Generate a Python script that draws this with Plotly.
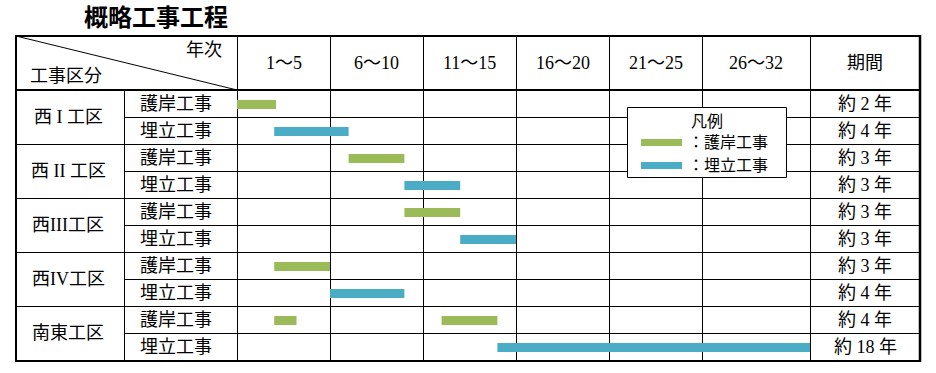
import numpy as np
import plotly.graph_objects as go

# ---------------- data ----------------
title = "概略工事工程"
areas = ["西 I 工区", "西 II 工区", "西III工区", "西IV工区", "南東工区"]
work_types = ["護岸工事", "埋立工事"]
year_labels = ["1～5", "6～10", "11～15", "16～20", "21～25", "26～32"]
year_bounds = [0, 5, 10, 15, 20, 25, 32]
period_labels = ["約 2 年", "約 4 年", "約 3 年", "約 3 年", "約 3 年",
                 "約 3 年", "約 3 年", "約 4 年", "約 4 年", "約 18 年"]

# 護岸工事 (revetment) tasks: table row, start year, end year
revetment_row = [0, 2, 4, 6, 8, 8]
revetment_start = [0, 6, 9, 2, 2, 11]
revetment_end = [2.1, 9, 12, 5, 3.2, 14]
# 埋立工事 (reclamation) tasks
reclaim_row = [1, 3, 5, 7, 9]
reclaim_start = [2, 9, 12, 5, 14]
reclaim_end = [6, 12, 15, 9, 32]

# ---------------- layout constants ----------------
W, H = 936, 373
col_x = [237, 330, 423, 516, 609, 702, 810]   # year-column edges (px)
left_x, split_x, right_x = 16, 124, 920
top_y, head_y, row_h = 36, 90, 27
n_rows = len(areas) * len(work_types)
bottom_y = head_y + n_rows * row_h
GREEN, BLUE = "#9BBB59", "#4BACC6"
FONT = "Liberation Serif, Noto Sans CJK JP, sans-serif"


def year_to_x(y):
    return np.interp(np.asarray(y, dtype=float), year_bounds, col_x)


def row_center(r):
    return head_y + (np.asarray(r, dtype=float) + 0.5) * row_h + 1


fig = go.Figure()

for rows, starts, ends, color, name in [
    (revetment_row, revetment_start, revetment_end, GREEN, work_types[0]),
    (reclaim_row, reclaim_start, reclaim_end, BLUE, work_types[1]),
]:
    x0 = year_to_x(starts)
    x1 = year_to_x(ends)
    fig.add_trace(go.Bar(
        orientation="h", y=row_center(rows), base=x0, x=x1 - x0, width=9,
        marker=dict(color=color, line=dict(width=0)), name=name,
        showlegend=False, hoverinfo="skip"))

shapes = []


def line(x0, y0, x1, y1, w=1, layer="below"):
    shapes.append(dict(type="line", xref="x", yref="y", x0=x0, y0=y0, x1=x1, y1=y1,
                       line=dict(color="black", width=w), layer=layer))


# outer border
line(left_x, top_y, right_x, top_y, 2)
line(left_x, bottom_y + 1, right_x, bottom_y + 1, 2)
line(left_x, top_y - 1, left_x, bottom_y + 2, 2)
line(right_x, top_y - 1, right_x, bottom_y + 2, 2.5)
# header bottom
line(left_x, head_y, right_x, head_y, 2)
# diagonal
line(left_x, top_y, col_x[0], head_y)
# vertical lines
line(split_x + 0.5, head_y, split_x + 0.5, bottom_y)
for cx in col_x:
    line(cx + 0.5, top_y, cx + 0.5, bottom_y)
# horizontal row lines
for r in range(1, n_rows):
    y = head_y + r * row_h + 0.5
    x0 = left_x if r % 2 == 0 else split_x
    line(x0, y, right_x, y)

# legend box
shapes.append(dict(type="rect", xref="x", yref="y", x0=627.5, x1=786.5, y0=107.5, y1=177.5,
                   line=dict(color="black", width=1), fillcolor="white", layer="above"))
shapes.append(dict(type="rect", xref="x", yref="y", x0=641, x1=682, y0=139, y1=146,
                   line=dict(width=0), fillcolor=GREEN, layer="above"))
shapes.append(dict(type="rect", xref="x", yref="y", x0=641, x1=682, y0=162, y1=169,
                   line=dict(width=0), fillcolor=BLUE, layer="above"))

ann = []


def text(x, y, s, size=18, anchor="center", bold=False):
    ann.append(dict(x=x, y=y, xref="x", yref="y", text=s, showarrow=False,
                    xanchor=anchor, yanchor="middle",
                    font=dict(family=FONT, size=size, color="black",
                              weight="bold" if bold else "normal")))


text(156, 18, title, size=24, bold=True)
text(204, 50, "年次")
text(66, 76, "工事区分")
for i, lab in enumerate(year_labels):
    text((col_x[i] + col_x[i + 1]) / 2, 63, lab)
text((col_x[-1] + right_x) / 2, 63, "期間")

for a, area in enumerate(areas):
    text(68, head_y + (2 * a + 1) * row_h, area)
for r in range(n_rows):
    yc = head_y + (r + 0.5) * row_h
    text(176, yc, work_types[r % 2])
    text((col_x[-1] + right_x) / 2, yc, period_labels[r])

text(707, 121, "凡例", size=16)
text(686, 142, "：" + work_types[0], size=16, anchor="left")
text(686, 165, "：" + work_types[1], size=16, anchor="left")

fig.update_layout(
    width=W, height=H, margin=dict(l=0, r=0, t=0, b=0),
    paper_bgcolor="white", plot_bgcolor="white",
    barmode="overlay", shapes=shapes, annotations=ann, showlegend=False,
    xaxis=dict(range=[0, W], visible=False, fixedrange=True),
    yaxis=dict(range=[H, 0], visible=False, fixedrange=True),
)

fig.write_html("out.html", config={"displayModeBar": False},
               post_script="document.body.style.margin='0';")
